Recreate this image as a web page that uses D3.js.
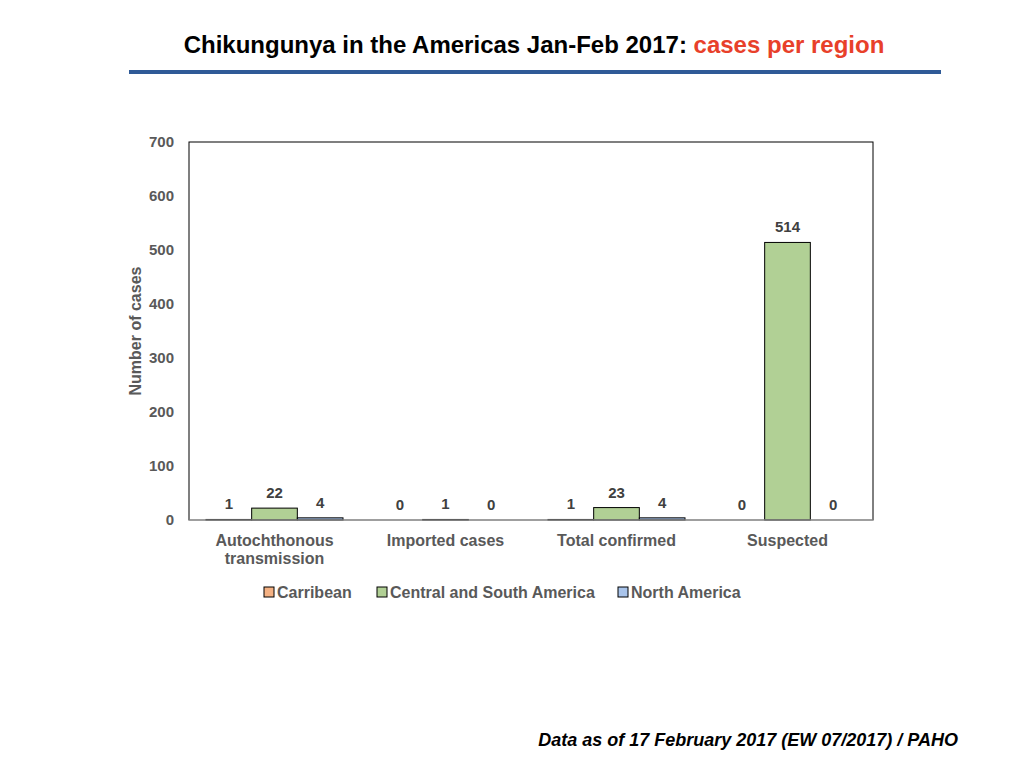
<!DOCTYPE html>
<html>
<head>
<meta charset="utf-8">
<script src="https://cdn.jsdelivr.net/npm/d3@7"></script>
<style>
  body { margin: 0; background: #fff; }
  text { font-family: "Liberation Sans", Arial, sans-serif; }
</style>
</head>
<body>
<svg id="chart" width="1024" height="768"></svg>
<script>
// data
const categories = ['Autochthonous transmission', 'Imported cases', 'Total confirmed', 'Suspected']
const seriesNames = ['Carribean', 'Central and South America', 'North America']
const carribean = [1, 0, 1, 0]
const centralSouth = [22, 1, 23, 514]
const northAmerica = [4, 0, 4, 0]
const yTicks = [0, 100, 200, 300, 400, 500, 600, 700]

const colors = ['#f4b183', '#b1d095', '#a9c4eb']
const series = [carribean, centralSouth, northAmerica]

const svg = d3.select('#chart')
const margin = { left: 189, right: 1024 - 873, top: 142, bottom: 768 - 520 }
const width = 1024 - margin.left - margin.right
const height = 768 - margin.top - margin.bottom

// title
const title = svg.append('text')
  .attr('x', 534)
  .attr('y', 53)
  .attr('text-anchor', 'middle')
  .style('font-size', '24px')
  .style('font-weight', 'bold')
title.append('tspan').attr('fill', '#000').text('Chikungunya in the Americas Jan-Feb 2017: ')
title.append('tspan').attr('fill', '#e8402a').text('cases per region')

svg.append('rect')
  .attr('x', 129).attr('y', 70)
  .attr('width', 812).attr('height', 4)
  .attr('fill', '#2f5a97')

const g = svg.append('g').attr('transform', `translate(${margin.left},${margin.top})`)

const x0 = d3.scaleBand().domain(categories).range([0, width]).paddingInner(0).paddingOuter(0)
const x1 = d3.scaleBand().domain(d3.range(seriesNames.length))
  .range([17, x0.bandwidth() - 17])
const y = d3.scaleLinear().domain([0, 700]).range([height, 0])

// y axis labels
const yAxis = g.append('g')
  .call(d3.axisLeft(y).tickValues(yTicks).tickSize(0).tickPadding(15))
yAxis.select('.domain').remove()
yAxis.selectAll('text')
  .attr('fill', '#595959')
  .style('font-size', '15px')
  .style('font-weight', 'bold')

// bars
const groups = g.selectAll('.cat')
  .data(categories)
  .enter()
  .append('g')
  .attr('class', 'cat')
  .attr('transform', d => `translate(${x0(d)},0)`)

groups.selectAll('rect')
  .data((d, i) => series.map((s, k) => ({ k, v: s[i] })))
  .enter()
  .append('rect')
  .attr('x', d => x1(d.k))
  .attr('width', x1.bandwidth())
  .attr('y', d => y(d.v))
  .attr('height', d => height - y(d.v))
  .attr('fill', d => colors[d.k])
  .attr('stroke', '#000')
  .attr('stroke-width', 1)

groups.selectAll('.lbl')
  .data((d, i) => series.map((s, k) => ({ k, v: s[i] })))
  .enter()
  .append('text')
  .attr('class', 'lbl')
  .attr('x', d => x1(d.k) + x1.bandwidth() / 2)
  .attr('y', d => y(d.v) - 10)
  .attr('text-anchor', 'middle')
  .attr('fill', '#404040')
  .style('font-size', '15px')
  .style('font-weight', 'bold')
  .text(d => d.v)

// plot frame
g.append('rect')
  .attr('width', width).attr('height', height)
  .attr('fill', 'none')
  .attr('stroke', '#000')
  .attr('stroke-width', 1)
g.append('line')
  .attr('x1', 0).attr('x2', width)
  .attr('y1', height).attr('y2', height)
  .attr('stroke', '#bfbfbf')

// category labels
const catLabels = {
  'Autochthonous transmission': ['Autochthonous', 'transmission']
}
g.selectAll('.catlbl')
  .data(categories)
  .enter()
  .append('text')
  .attr('class', 'catlbl')
  .attr('x', d => x0(d) + x0.bandwidth() / 2)
  .attr('y', height + 26)
  .attr('text-anchor', 'middle')
  .attr('fill', '#595959')
  .style('font-size', '16px')
  .style('font-weight', 'bold')
  .each(function (d) {
    const lines = catLabels[d] || [d]
    d3.select(this).selectAll('tspan')
      .data(lines)
      .enter()
      .append('tspan')
      .attr('x', x0(d) + x0.bandwidth() / 2)
      .attr('dy', (l, i) => i === 0 ? 0 : 18)
      .text(l => l)
  })

// y axis title
svg.append('text')
  .attr('transform', 'translate(141,331) rotate(-90)')
  .attr('text-anchor', 'middle')
  .attr('fill', '#595959')
  .style('font-size', '16px')
  .style('font-weight', 'bold')
  .text('Number of cases')

// legend
const legendX = [264, 377, 618]
const legend = svg.selectAll('.leg')
  .data(seriesNames)
  .enter()
  .append('g')
  .attr('class', 'leg')
  .attr('transform', (d, i) => `translate(${legendX[i]},587)`)
legend.append('rect')
  .attr('width', 10).attr('height', 10)
  .attr('fill', (d, i) => colors[i])
  .attr('stroke', '#000')
legend.append('text')
  .attr('x', 13).attr('y', 10.5)
  .attr('fill', '#595959')
  .style('font-size', '16px')
  .style('font-weight', 'bold')
  .text(d => d)

// footnote
svg.append('text')
  .attr('x', 958)
  .attr('y', 746)
  .attr('text-anchor', 'end')
  .attr('fill', '#000')
  .style('font-size', '18px')
  .style('font-weight', 'bold')
  .style('font-style', 'italic')
  .text('Data as of 17 February 2017 (EW 07/2017) / PAHO')
</script>
</body>
</html>
